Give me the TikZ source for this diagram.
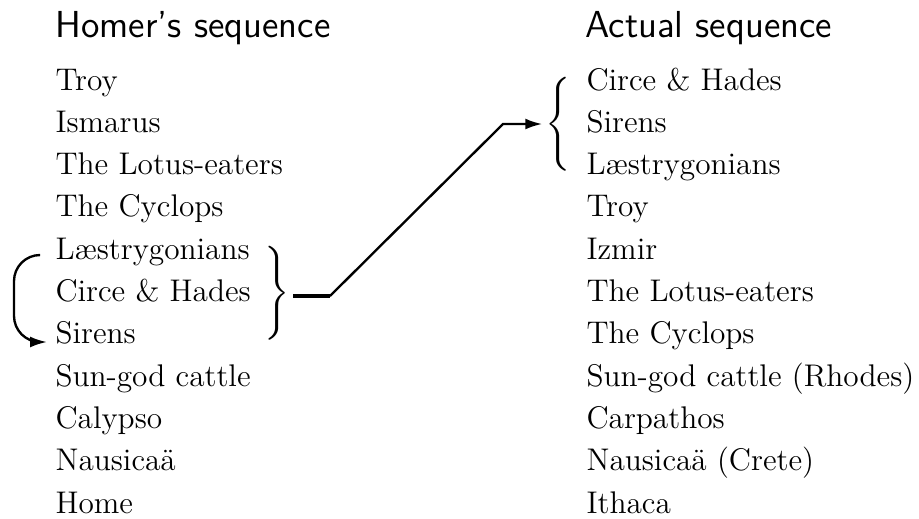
\documentclass[tikz,border=0pt]{standalone}
\usepackage{fontspec}
\usepackage{amsmath}
\usetikzlibrary{arrows.meta}
\tikzset{
  txt/.style={anchor=base west, inner sep=0pt, font=\fontsize{12}{14}\selectfont},
  head/.style={anchor=base west, inner sep=0pt, font=\fontsize{14.4}{17}\selectfont\sffamily},
  bracenode/.style={anchor=base, inner sep=0pt, font=\fontsize{12}{14}\selectfont},
  conn/.style={line width=0.9pt},
  tip/.style={-{Latex[length=6.5pt,width=4.2pt]}}
}
\begin{document}
\begin{tikzpicture}[x=0.3831pt, y=-0.3831pt]
\useasboundingbox (0,0) rectangle (919,518);
% headers
\node[head] (hH) at (55,37) {Homer’s sequence};
\node[head] (hA) at (585,37) {Actual sequence};
% left column
\node[txt] (l0) at (55,90) {Troy};
\node[txt] (l1) at (55,132.3) {Ismarus};
\node[txt] (l2) at (55,174.6) {The Lotus-eaters};
\node[txt] (l3) at (55,216.9) {The Cyclops};
\node[txt] (l4) at (55,259.2) {Læstrygonians};
\node[txt] (l5) at (55,301.5) {Circe \& Hades};
\node[txt] (l6) at (55,343.8) {Sirens};
\node[txt] (l7) at (55,386.1) {Sun-god cattle};
\node[txt] (l8) at (55,428.4) {Calypso};
\node[txt] (l9) at (55,470.7) {Nausicaä};
\node[txt] (l10) at (55,513) {Home};
% right column
\node[txt] (r0) at (586,90) {Circe \& Hades};
\node[txt] (r1) at (586,132.3) {Sirens};
\node[txt] (r2) at (586,174.6) {Læstrygonians};
\node[txt] (r3) at (586,216.9) {Troy};
\node[txt] (r4) at (586,259.2) {Izmir};
\node[txt] (r5) at (586,301.5) {The Lotus-eaters};
\node[txt] (r6) at (586,343.8) {The Cyclops};
\node[txt] (r7) at (586,386.1) {Sun-god cattle (Rhodes)};
\node[txt] (r8) at (586,428.4) {Carpathos};
\node[txt] (r9) at (586,470.7) {Nausicaä (Crete)};
\node[txt] (r10) at (586,513) {Ithaca};
% braces
\node[bracenode] (bL) at (277,301.5) {$\Bigg\}$};
\node[bracenode] (bR) at (558,132.3) {$\Bigg\{$};
% left loop arrow
\coordinate (s0) at (40,255);
\coordinate (s1) at (47,342);
\draw[conn, tip, rounded corners=10pt] (s0) -- (14,255) -- (14,342) -- (s1);
% connector from left brace to right brace
\coordinate (j0) at ([xshift=1.2pt]bL.east |- 0,296);
\coordinate (j1) at (330,296);
\coordinate (j2) at (503,124);
\coordinate (j3) at ([xshift=-1pt]bR.west |- 0,124);
\draw[line width=1.5pt] (j0) -- (j1);
\draw[conn, tip] (j1) -- (j2) -- (j3);
\end{tikzpicture}
\end{document}
